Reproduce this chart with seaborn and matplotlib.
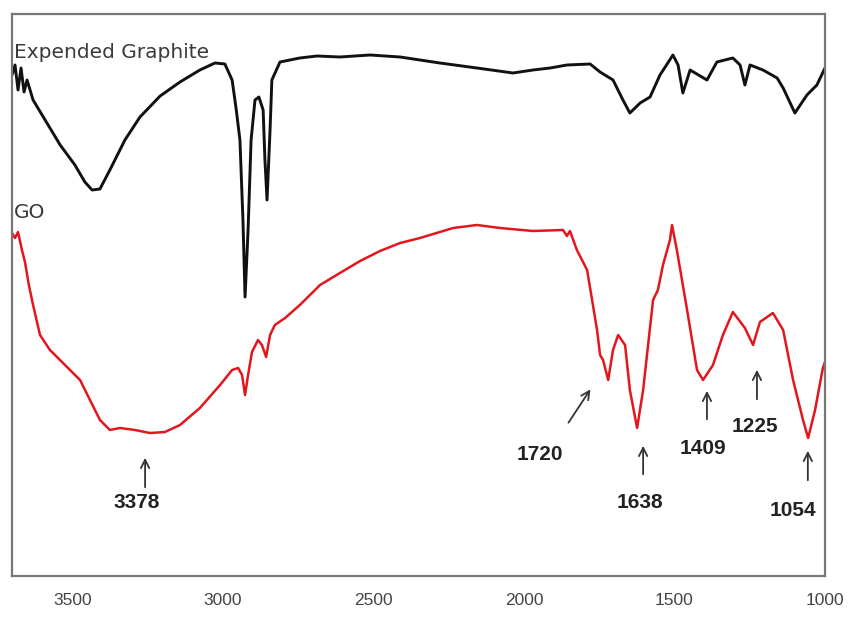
import matplotlib
matplotlib.use("Agg")
import matplotlib.pyplot as plt
import seaborn as sns
import pandas as pd

# ---- data (wavenumber cm-1, transmittance in arbitrary units) ----
eg_wn = [3700, 3690, 3680, 3670, 3660, 3650, 3630, 3590, 3540, 3491, 3458, 3434, 3408,
         3375, 3325, 3275, 3208, 3142, 3076, 3026, 2993, 2969, 2956, 2943, 2933, 2926,
         2916, 2906, 2893, 2880, 2866, 2860, 2853, 2843, 2837, 2810, 2744, 2687, 2611,
         2511, 2411, 2279, 2156, 2036, 1970, 1913, 1857, 1780, 1747, 1704, 1671, 1648,
         1614, 1581, 1548, 1505, 1488, 1472, 1448, 1392, 1359, 1306, 1282, 1266, 1249,
         1206, 1159, 1139, 1100, 1060, 1027, 1000]
eg_t = [501, 511, 486, 508, 484, 496, 476, 456, 431, 411, 394, 386, 387,
        406, 436, 459, 480, 494, 506, 513, 512, 496, 468, 436, 356, 279,
        346, 436, 476, 479, 466, 416, 376, 446, 496, 514, 518, 520, 519,
        521, 519, 513, 508, 503, 506, 508, 511, 512, 504, 496, 476, 463,
        473, 479, 501, 521, 511, 483, 506, 496, 514, 518, 511, 491, 511,
        506, 498, 488, 463, 481, 491, 508]

go_wn = [3700, 3690, 3680, 3667, 3657, 3644, 3630, 3607, 3574, 3524, 3474, 3441, 3408,
         3375, 3341, 3292, 3242, 3192, 3142, 3076, 3009, 2969, 2949, 2936, 2926, 2916,
         2903, 2883, 2870, 2856, 2843, 2827, 2793, 2744, 2677, 2611, 2544, 2478, 2411,
         2345, 2235, 2156, 2079, 1970, 1870, 1857, 1847, 1824, 1790, 1757, 1747, 1737,
         1720, 1704, 1687, 1664, 1648, 1624, 1604, 1571, 1555, 1538, 1515, 1508, 1492,
         1458, 1425, 1405, 1372, 1339, 1306, 1266, 1239, 1216, 1173, 1139, 1106, 1073,
         1056, 1033, 1007, 1000]
go_t = [343, 338, 344, 326, 314, 291, 271, 241, 226, 211, 196, 176, 156,
        146, 148, 146, 143, 144, 151, 168, 191, 206, 208, 201, 181, 201,
        224, 236, 231, 219, 241, 251, 258, 271, 291, 303, 315, 325, 333,
        338, 348, 351, 348, 345, 346, 340, 345, 326, 306, 246, 221, 216,
        196, 226, 241, 231, 186, 148, 186, 276, 286, 311, 336, 351, 326,
        266, 206, 196, 211, 241, 264, 248, 231, 254, 263, 246, 196, 156,
        138, 166, 208, 214]

x_ticks = [3500, 3000, 2500, 2000, 1500, 1000]

# peak annotations: label, arrow head, arrow tail, text position
peak_labels = ["3378", "1720", "1638", "1409", "1225", "1054"]
peak_head_x = [3258, 1774, 1604, 1392, 1226, 1057]
peak_head_y = [121, 189, 133, 188, 209, 128]
peak_tail_x = [3258, 1857, 1604, 1392, 1226, 1057]
peak_tail_y = [86, 151, 99, 154, 174, 93]
peak_text_x = [3285, 1947, 1614, 1405, 1233, 1106]
peak_text_y = [73, 121, 74, 128, 149, 66]

series_names = ["Expended Graphite", "GO"]

# ---- build table ----
df = pd.concat([
    pd.DataFrame({"wn": eg_wn, "T": eg_t, "s": series_names[0]}),
    pd.DataFrame({"wn": go_wn, "T": go_t, "s": series_names[1]}),
])

sns.set_style("white")
fig = plt.figure(figsize=(8.52, 6.2), dpi=100)
ax = fig.add_axes([12 / 852, 1 - 576 / 620, 813 / 852, 562 / 620])

sns.lineplot(data=df, x="wn", y="T", hue="s", estimator=None, sort=False,
             palette={"Expended Graphite": "#111111", "GO": "#e3161d"},
             linewidth=2.0, legend=False, ax=ax)
for ln, lw in zip(ax.get_lines(), [2.1, 1.8]):
    ln.set_linewidth(lw)

ax.set_xlim(3700, 1000)
ax.set_ylim(0, 562)
ax.set_xticks(x_ticks)
ax.set_xticklabels([str(t) for t in x_ticks], fontsize=12.5, color="#444444",
                   family=["Liberation Sans", "DejaVu Sans"])
ax.set_yticks([])
ax.set_xlabel("")
ax.set_ylabel("")
ax.tick_params(axis="x", direction="out", length=6, width=1.2, color="#555555", pad=6)
for sp in ax.spines.values():
    sp.set_visible(True)
    sp.set_color("#777777")
    sp.set_linewidth(1.6)

ax.text(3694, 524, series_names[0], fontsize=14.5, color="#3a3a3a",
        family=["DejaVu Sans"], ha="left", va="center")
ax.text(3694, 363, series_names[1], fontsize=14.5, color="#3a3a3a",
        family=["DejaVu Sans"], ha="left", va="center")

for lab, hx, hy, tx, ty, lx, ly in zip(peak_labels, peak_head_x, peak_head_y,
                                       peak_tail_x, peak_tail_y, peak_text_x, peak_text_y):
    ax.annotate("", xy=(hx, hy), xytext=(tx, ty),
                arrowprops=dict(arrowstyle="->,head_length=0.6,head_width=0.3",
                                color="#333333", lw=1.3))
    ax.text(lx, ly, lab, fontsize=15, fontweight="bold", color="#222222",
            family=["Liberation Sans", "DejaVu Sans"], ha="center", va="center")

fig.savefig("out.png", dpi=100)
